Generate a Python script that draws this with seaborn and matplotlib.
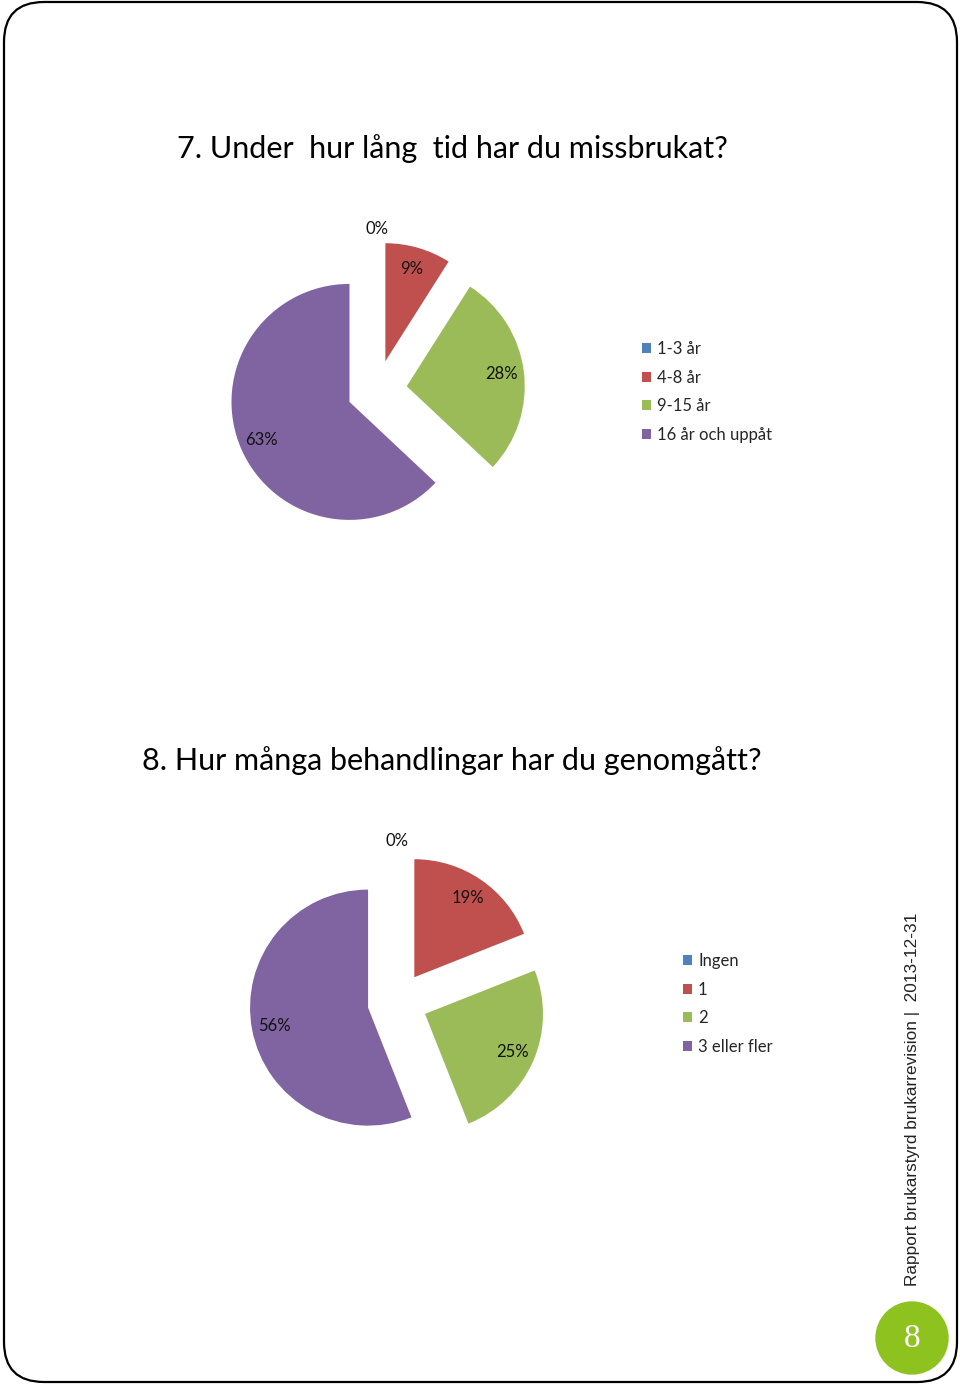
import numpy as np
import matplotlib
matplotlib.use("Agg")
import matplotlib.pyplot as plt
import seaborn as sns
from matplotlib.patches import FancyBboxPatch, Circle

# ---- data ----
q7_title = "7. Under  hur lång  tid har du missbrukat?"
q7_categories = ["1-3 år", "4-8 år", "9-15 år", "16 år och uppåt"]
q7_values = [0, 9, 28, 63]

q8_title = "8. Hur många behandlingar har du genomgått?"
q8_categories = ["Ingen", "1", "2", "3 eller fler"]
q8_values = [0, 19, 25, 56]

footer_text = "Rapport brukarstyrd brukarrevision |  2013-12-31"
page_number = "8"

colors = ["#4F81BD", "#C0504D", "#9BBB59", "#8064A2"]

sns.set_theme(style="white")
plt.rcParams['font.family'] = ['Lato', 'DejaVu Sans']

W, H = 960, 1386
fig = plt.figure(figsize=(W / 100, H / 100), dpi=100)
fig.patch.set_facecolor("white")

bg = fig.add_axes([0, 0, 1, 1])
bg.set_xlim(0, W)
bg.set_ylim(H, 0)
bg.axis("off")
bg.add_patch(FancyBboxPatch((4, 2), 953, 1380,
                            boxstyle="round,pad=0,rounding_size=40",
                            fill=False, ec="black", lw=1.6))

bg.text(452, 149, q7_title, ha="center", va="center", fontsize=22, color="black")
bg.text(452, 761, q8_title, ha="center", va="center", fontsize=22, color="black")

bg.text(913, 1099, footer_text, rotation=90, ha="center", va="center",
        fontsize=12.4, color="#222222", family=["Liberation Sans", "DejaVu Sans"])
bg.add_patch(Circle((912, 1338), 36, color="#8DC21F"))
bg.text(912, 1339, page_number, ha="center", va="center", fontsize=24,
        color="white", family=["Liberation Serif", "DejaVu Serif"])

EXPLODE = 0.254


def pie_at(cx, cy, r_px, values, labels, legend_xy):
    half = 210
    ax = fig.add_axes([(cx - half) / W, 1 - (cy + half) / H, 2 * half / W, 2 * half / H])
    wedges, texts, autotexts = ax.pie(
        values, explode=[EXPLODE] * len(values), colors=colors,
        startangle=90, counterclock=False,
        autopct=lambda p: f"{p:.0f}%", pctdistance=0.81,
        textprops=dict(fontsize=12, color="#111111"),
        wedgeprops=dict(linewidth=0))
    lim = half / r_px
    ax.set_xlim(-lim, lim)
    ax.set_ylim(-lim, lim)
    ax.axis("off")
    # zero-size slices: label sits outside the pie
    for v, t in zip(values, autotexts):
        if v == 0:
            x, y = t.get_position()
            s = (EXPLODE + 1.11) / (EXPLODE + 0.81)
            t.set_position((x * s, y * s))
    lx, ly = legend_xy
    fig.legend(wedges, labels, loc="upper left",
               bbox_to_anchor=(lx / W, 1 - ly / H), frameon=False,
               fontsize=12, handlelength=0.55, handleheight=0.55,
               handletextpad=0.35, labelspacing=0.76,
               borderpad=0, borderaxespad=0)


pie_at(377, 390, 118, q7_values, q7_categories, (642, 341))
pie_at(397.5, 1002, 118, q8_values, q8_categories, (683, 953))

fig.savefig("out.png", dpi=100)
